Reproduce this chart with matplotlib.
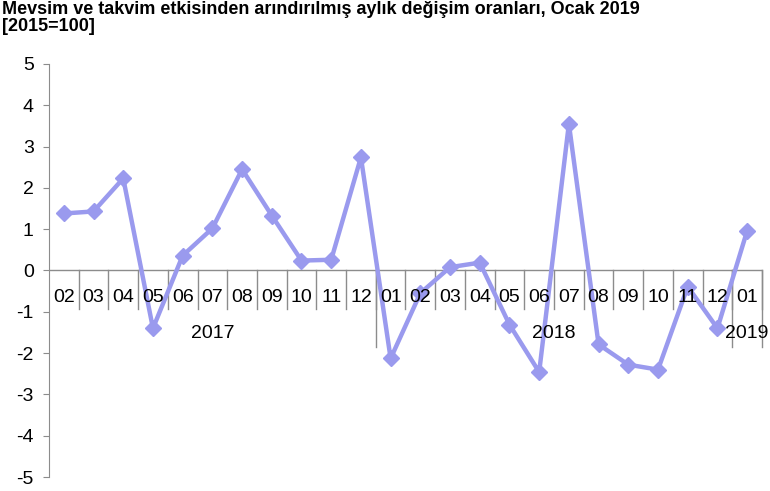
import matplotlib.pyplot as plt

plt.rcParams['font.family'] = ['Liberation Sans', 'DejaVu Sans']
plt.rcParams['axes.unicode_minus'] = False

# 2017-02 ... 2019-01 monthly change (%)
months = ['02', '03', '04', '05', '06', '07', '08', '09', '10', '11', '12',
          '01', '02', '03', '04', '05', '06', '07', '08', '09', '10', '11', '12',
          '01']
values = [1.38, 1.43, 2.23, -1.40, 0.36, 1.02, 2.45, 1.33, 0.24, 0.26, 2.74,
          -2.13, -0.55, 0.08, 0.19, -1.31, -2.46, 3.55, -1.79, -2.28, -2.40,
          -0.39, -1.40, 0.96]
years = ['2017', '2018', '2019']
year_start = [0, 11, 23]   # index of first month of each year
year_end = [10, 22, 23]

line_color = '#9a9aee'
grey = '#8c8c8c'

fig = plt.figure(figsize=(7.7, 4.91), dpi=100)
ax = fig.add_axes([0.0636, 0.0285, 0.9260, 0.8412])

x = list(range(len(values)))
ax.plot(x, values, color=line_color, lw=3.2, marker='D', ms=8,
        solid_joinstyle='round', zorder=2)

ax.set_xlim(-0.5, len(values) - 0.5)
ax.set_ylim(-5, 5)
ax.set_yticks(range(-5, 6))
ax.tick_params(axis='y', direction='out', length=4, color=grey,
               labelsize=14, pad=7)
ax.set_xticks([])
for s in ['top', 'right', 'bottom']:
    ax.spines[s].set_visible(False)
ax.spines['left'].set_color(grey)

# category axis on the zero line
ax.axhline(0, color=grey, lw=1, zorder=1)
for i, m in enumerate(months):
    ax.text(i, -0.66, m, ha='center', va='center', fontsize=14, zorder=3)
    ax.plot([i + 0.5, i + 0.5], [0, -0.94], color=grey, lw=1, clip_on=False,
            zorder=1)
for y, s, e in zip(years, year_start, year_end):
    ax.text((s + e) / 2, -1.52, y, ha='center', va='center', fontsize=14,
            zorder=3)
    ax.plot([e + 0.5, e + 0.5], [0, -1.85], color=grey, lw=1, clip_on=False,
            zorder=1)

fig.text(0.003, 0.997, 'Mevsim ve takvim etkisinden arındırılmış aylık değişim oranları, Ocak 2019\n[2015=100]',
         ha='left', va='top', fontsize=13, fontweight='bold', linespacing=1.0)

fig.savefig('out.png', dpi=100)
